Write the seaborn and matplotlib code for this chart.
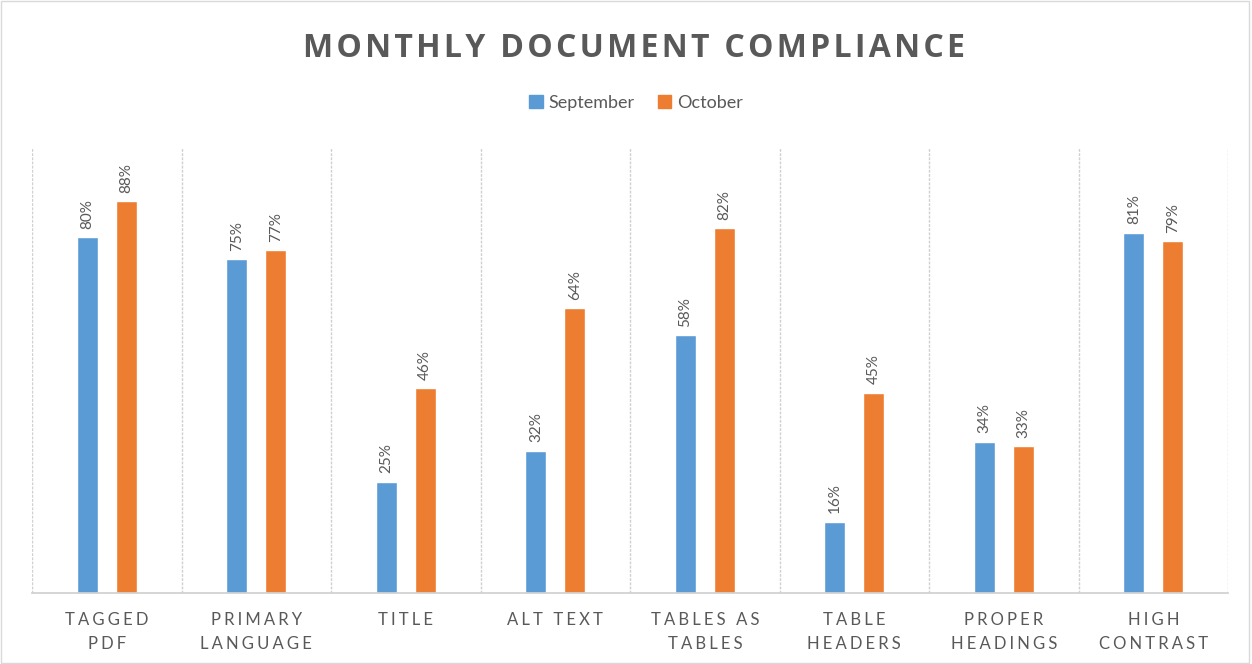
import matplotlib
matplotlib.use("Agg")
import matplotlib.pyplot as plt
import seaborn as sns
import pandas as pd
from matplotlib.patches import Rectangle

categories = ["TAGGED\nPDF", "PRIMARY\nLANGUAGE", "TITLE", "ALT TEXT", "TABLES AS\nTABLES",
              "TABLE\nHEADERS", "PROPER\nHEADINGS", "HIGH\nCONTRAST"]
september = [80, 75, 25, 32, 58, 16, 34, 81]
october = [88, 77, 46, 64, 82, 45, 33, 79]
series = ["September", "October"]
colors = ["#5B9BD5", "#ED7D31"]

df = pd.DataFrame({
    "category": categories * 2,
    "value": september + october,
    "month": [series[0]] * len(categories) + [series[1]] * len(categories),
})

sns.set_theme(style="white")
plt.rcParams["font.family"] = ["Lato", "DejaVu Sans"]

fig = plt.figure(figsize=(12.52, 6.64), dpi=100)
ax = fig.add_axes([0.0256, 0.107, 0.9553, 0.67])

sns.barplot(data=df, x="category", y="value", hue="month", palette=colors,
            width=0.52, gap=0.46, ax=ax, legend=False, saturation=1)

text_gray = "#595959"
for cont in ax.containers:
    vals = [b.get_height() for b in cont]
    ax.bar_label(cont, labels=[f"{v:.0f}%" for v in vals], rotation=90, padding=6,
                 color=text_gray, fontsize=11)

ax.set_ylim(0, 100)
ax.set_xlim(-0.5, len(categories) - 0.5)
for i in range(len(categories) + 1):
    ax.axvline(i - 0.5, color="#D0D0D0", lw=1, ls=(0, (2, 1)), zorder=0)
for s in ["top", "left", "right"]:
    ax.spines[s].set_visible(False)
ax.spines["bottom"].set_color("#D0D0D0")
ax.set_yticks([])
ax.set_xlabel("")
ax.set_ylabel("")

def spaced(s, sep):
    return "\n".join(sep.join(ch for ch in line) for line in s.split("\n"))

ax.set_xticks(range(len(categories)))
ax.set_xticklabels([spaced(c, "\u2009\u200a") for c in categories], fontsize=12,
                   color=text_gray, linespacing=1.55)
ax.tick_params(axis="x", length=0, pad=14)

fig.text(0.506, 0.927, spaced("MONTHLY DOCUMENT COMPLIANCE", "\u200a"), ha="center",
         va="center", fontsize=23, fontweight="bold", color=text_gray,
         family=["Open Sans", "DejaVu Sans"])

handles = [Rectangle((0, 0), 1, 1, color=c) for c in colors]
fig.legend(handles, series, loc="center", bbox_to_anchor=(0.508, 0.845), ncol=2,
           frameon=False, fontsize=13, handlelength=0.75, handleheight=0.75,
           handletextpad=0.3, columnspacing=1.3, labelcolor=text_gray)

fig.patches.append(Rectangle((0.001, 0.001), 0.997, 0.997, transform=fig.transFigure,
                             fill=False, edgecolor="#D9D9D9", lw=1))

fig.savefig("out.png", dpi=100, facecolor="white")
